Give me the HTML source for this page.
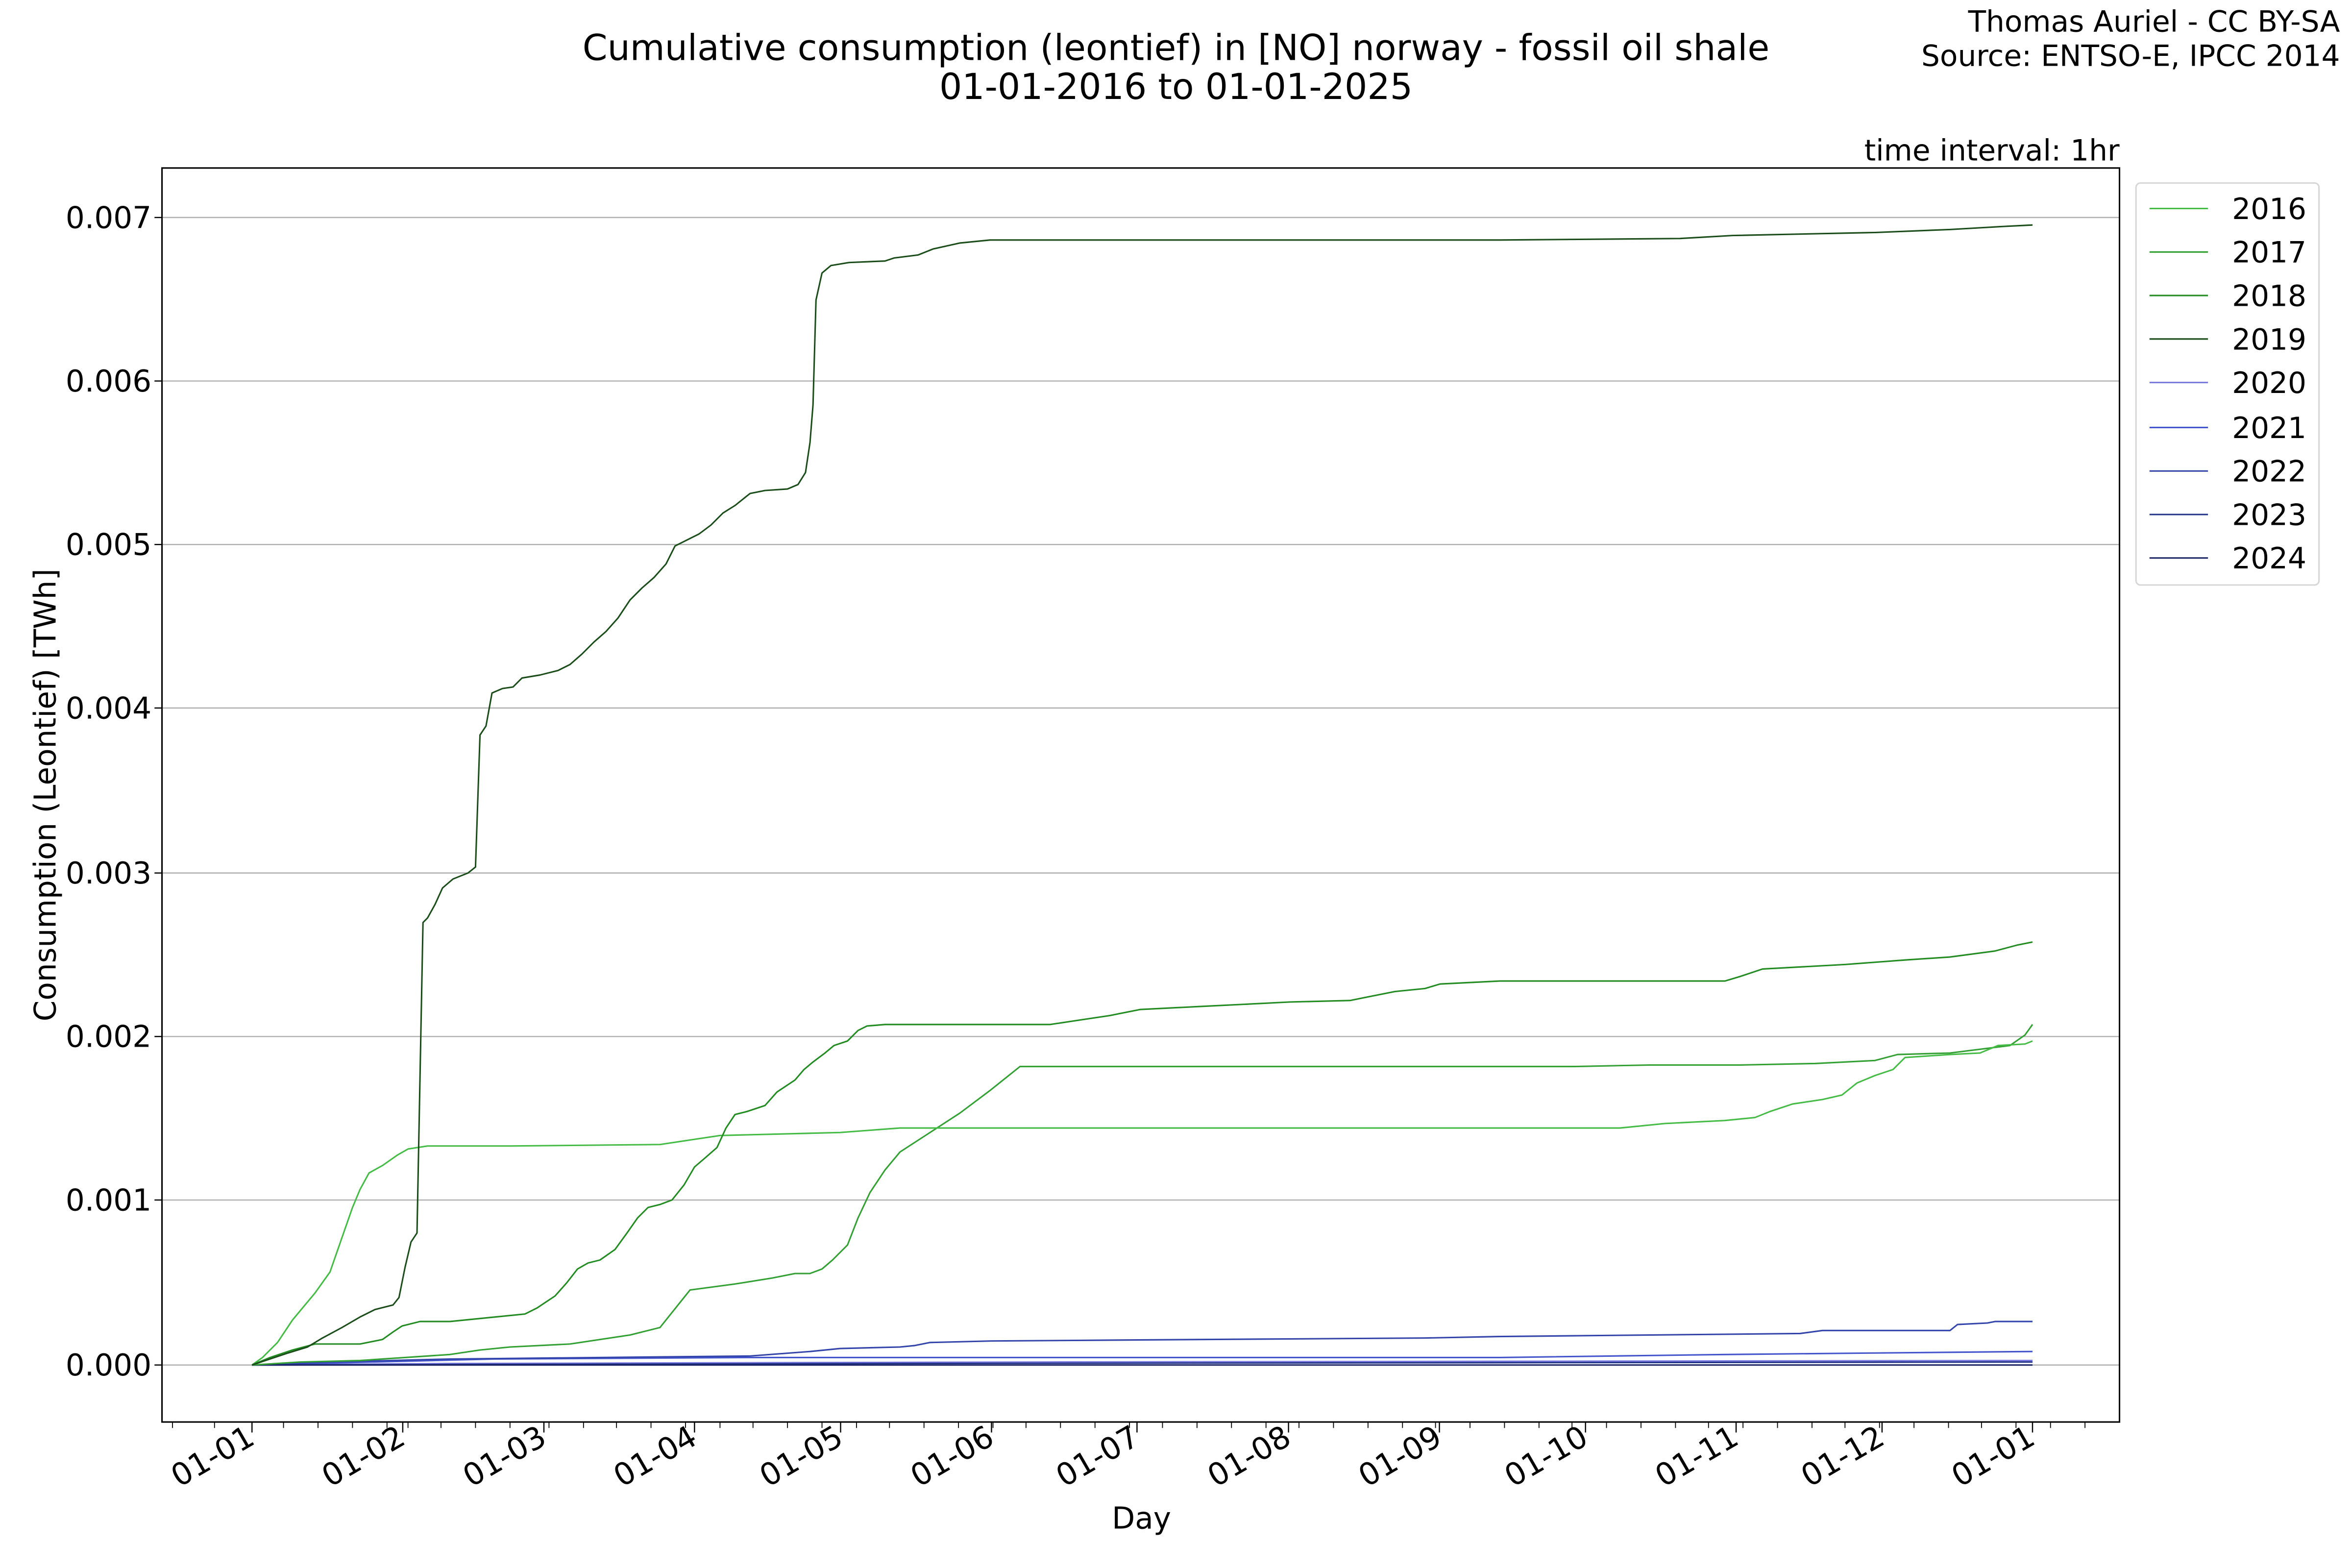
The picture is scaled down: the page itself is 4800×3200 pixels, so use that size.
<!DOCTYPE html>
<html><head><meta charset="utf-8"><style>html,body{margin:0;padding:0;background:#fff}svg{display:block}text{font-family:"DejaVu Sans","Liberation Sans",sans-serif;fill:#000}</style></head>
<body>
<svg width="4800" height="3200" viewBox="0 0 1568 1045.33" xmlns="http://www.w3.org/2000/svg">
<rect width="1568" height="1046" fill="#fff"/>
<text x="784" y="40" font-size="23.8" text-anchor="middle">Cumulative consumption (leontief) in [NO] norway - fossil oil shale</text>
<text x="784" y="66" font-size="23.8" text-anchor="middle">01-01-2016 to 01-01-2025</text>
<text x="1560" y="21" font-size="19.5" text-anchor="end">Thomas Auriel - CC BY-SA</text>
<text x="1560" y="44" font-size="19.5" text-anchor="end">Source: ENTSO-E, IPCC 2014</text>
<text x="1413" y="107" font-size="19.5" text-anchor="end">time interval: 1hr</text>
<g stroke="#b0b0b0" stroke-width="0.8">
<line x1="108" x2="1413" y1="145" y2="145"/><line x1="108" x2="1413" y1="254" y2="254"/><line x1="108" x2="1413" y1="363" y2="363"/><line x1="108" x2="1413" y1="472" y2="472"/><line x1="108" x2="1413" y1="582" y2="582"/><line x1="108" x2="1413" y1="691" y2="691"/><line x1="108" x2="1413" y1="800" y2="800"/><line x1="108" x2="1413" y1="910" y2="910"/>
</g>
<g font-size="20" text-anchor="end">
<text x="101" y="152">0.007</text><text x="101" y="261">0.006</text><text x="101" y="370">0.005</text><text x="101" y="479">0.004</text><text x="101" y="589">0.003</text><text x="101" y="698">0.002</text><text x="101" y="807">0.001</text><text x="101" y="917">0.000</text>
</g>
<g stroke="#000" stroke-width="0.8">
<line x1="103" x2="108" y1="145" y2="145"/><line x1="103" x2="108" y1="254" y2="254"/><line x1="103" x2="108" y1="363" y2="363"/><line x1="103" x2="108" y1="472" y2="472"/><line x1="103" x2="108" y1="582" y2="582"/><line x1="103" x2="108" y1="691" y2="691"/><line x1="103" x2="108" y1="800" y2="800"/><line x1="103" x2="108" y1="910" y2="910"/>
</g>
<g fill="none" stroke-width="1" stroke-linejoin="round">
<polyline stroke="#7777dd" points="168,910 300,909 700,908 1355,907"/>
<polyline stroke="#4455cc" points="168,910 250,908 330,906 500,905 700,905 1000,905 1150,903 1250,902 1355,901"/>
<polyline stroke="#3344aa" points="168,910 220,908 300,906 400,905 500,904 540,901 560,899 600,898 610,897 620,895 660,894 800,893 950,892 1000,891 1100,890 1200,889 1215,887 1300,887 1305,883 1325,882 1330,881 1355,881"/>
<polyline stroke="#223388" points="168,910 600,909 1355,908"/>
<polyline stroke="#1a2266" points="168,910 1355,910"/>
<polyline stroke="#33a033" points="168,910 200,908 240,907 270,905 300,903 320,900 340,898 380,896 420,890 440,885 460,860 490,856 515,852 530,849 540,849 548,846 555,840 565,830 572,812 580,795 590,780 600,768 620,755 640,742 660,727 680,711 720,711 1050,711 1100,710 1160,710 1210,709 1250,707 1265,703 1300,702 1340,697 1350,690 1355,683"/>
<polyline stroke="#44bb44" points="168,910 175,905 185,895 195,880 210,862 220,848 228,825 235,805 240,793 246,782 255,777 265,770 272,766 285,764 340,764 440,763 460,760 480,757 560,755 600,752 700,752 1080,752 1110,749 1150,747 1170,745 1180,741 1195,736 1215,733 1228,730 1238,722 1250,717 1262,713 1270,705 1300,703 1320,702 1332,697 1350,696 1355,694"/>
<polyline stroke="#228b22" points="168,910 180,905 195,900 210,896 240,896 255,893 262,888 268,884 280,881 300,881 320,879 350,876 358,872 370,864 378,855 385,846 392,842 400,840 410,833 418,822 425,812 432,805 440,803 448,800 452,795 456,790 463,778 470,772 478,765 484,752 490,743 498,741 510,737 518,728 530,720 536,713 542,708 550,702 556,697 565,694 572,687 578,684 590,683 700,683 720,680 740,677 760,673 800,671 860,668 900,667 915,664 930,661 950,659 960,656 1000,654 1150,654 1160,651 1175,646 1230,643 1270,640 1300,638 1330,634 1345,630 1355,628"/>
<polyline stroke="#1a4d1a" points="168,910 180,906 192,902 205,898 215,892 228,885 240,878 250,873 262,870 266,865 270,845 274,828 278,822 282,615 285,612 290,603 295,592 302,586 312,582 317,578 320,490 324,484 328,462 335,459 342,458 348,452 360,450 372,447 380,443 388,436 396,428 404,421 412,412 420,400 428,392 436,385 444,376 450,364 458,360 466,356 474,350 482,342 490,337 500,329 510,327 525,326 532,323 537,315 540,295 542,270 544,200 548,182 554,177 566,175 590,174 596,172 612,170 622,166 640,162 660,160 1000,160 1120,159 1155,157 1250,155 1300,153 1335,151 1355,150"/>
</g>
<rect x="108" y="112" width="1305" height="836" fill="none" stroke="#000" stroke-width="1"/>
<g stroke="#000" stroke-width="0.8">
<line x1="168" x2="168" y1="948" y2="955"/><line x1="268.5" x2="268.5" y1="948" y2="955"/><line x1="362.6" x2="362.6" y1="948" y2="955"/><line x1="463" x2="463" y1="948" y2="955"/><line x1="560.4" x2="560.4" y1="948" y2="955"/><line x1="661" x2="661" y1="948" y2="955"/><line x1="758" x2="758" y1="948" y2="955"/><line x1="859" x2="859" y1="948" y2="955"/><line x1="959.6" x2="959.6" y1="948" y2="955"/><line x1="1057" x2="1057" y1="948" y2="955"/><line x1="1157.4" x2="1157.4" y1="948" y2="955"/><line x1="1254.7" x2="1254.7" y1="948" y2="955"/><line x1="1355" x2="1355" y1="948" y2="955"/>
</g>
<g font-size="20.5" text-anchor="end">
<text transform="translate(171,962) rotate(-30)">01-01</text>
<text transform="translate(271.5,962) rotate(-30)">01-02</text>
<text transform="translate(365.6,962) rotate(-30)">01-03</text>
<text transform="translate(466,962) rotate(-30)">01-04</text>
<text transform="translate(563.4,962) rotate(-30)">01-05</text>
<text transform="translate(664,962) rotate(-30)">01-06</text>
<text transform="translate(761,962) rotate(-30)">01-07</text>
<text transform="translate(862,962) rotate(-30)">01-08</text>
<text transform="translate(962.6,962) rotate(-30)">01-09</text>
<text transform="translate(1060,962) rotate(-30)">01-10</text>
<text transform="translate(1160.4,962) rotate(-30)">01-11</text>
<text transform="translate(1257.7,962) rotate(-30)">01-12</text>
<text transform="translate(1358,962) rotate(-30)">01-01</text>
</g>
<text x="761" y="1019" font-size="20" text-anchor="middle">Day</text>
<text transform="translate(37,530) rotate(-90)" font-size="20" text-anchor="middle">Consumption (Leontief) [TWh]</text>
<rect x="1424" y="122" width="122" height="268" rx="3" fill="#fff" stroke="#d6d6d6" stroke-width="1"/>
<g stroke-width="1">
<line x1="1433" x2="1472" y1="139" y2="139" stroke="#44bb44"/>
<line x1="1433" x2="1472" y1="168" y2="168" stroke="#33a033"/>
<line x1="1433" x2="1472" y1="197" y2="197" stroke="#228b22"/>
<line x1="1433" x2="1472" y1="226" y2="226" stroke="#1a4d1a"/>
<line x1="1433" x2="1472" y1="255" y2="255" stroke="#7777dd"/>
<line x1="1433" x2="1472" y1="285" y2="285" stroke="#4455cc"/>
<line x1="1433" x2="1472" y1="314" y2="314" stroke="#3344aa"/>
<line x1="1433" x2="1472" y1="343" y2="343" stroke="#223388"/>
<line x1="1433" x2="1472" y1="372" y2="372" stroke="#1a2266"/>
</g>
<g font-size="19.5">
<text x="1488" y="146">2016</text><text x="1488" y="175">2017</text><text x="1488" y="204">2018</text><text x="1488" y="233">2019</text><text x="1488" y="262">2020</text><text x="1488" y="292">2021</text><text x="1488" y="321">2022</text><text x="1488" y="350">2023</text><text x="1488" y="379">2024</text>
</g>
<g stroke="#000" stroke-width="0.6">
<path d="M115 948v4M143 948v4M189 948v4M212 948v4M235 948v4M258 948v4M272 948v4M294 948v4M317 948v4M340 948v4M366 948v4M389 948v4M411 948v4M434 948v4M457 948v4M480 948v4M502 948v4M525 948v4M548 948v4M571 948v4M593 948v4M616 948v4M639 948v4M662 948v4M684 948v4M707 948v4M730 948v4M753 948v4M775 948v4M798 948v4M821 948v4M844 948v4M866 948v4M889 948v4M912 948v4M935 948v4M957 948v4M980 948v4M1003 948v4M1026 948v4M1048 948v4M1071 948v4M1094 948v4M1117 948v4M1139 948v4M1162 948v4M1185 948v4M1208 948v4M1230 948v4M1253 948v4M1276 948v4M1299 948v4M1321 948v4M1344 948v4M1367 948v4M1390 948v4"/>
</g>
</svg>
</body></html>
